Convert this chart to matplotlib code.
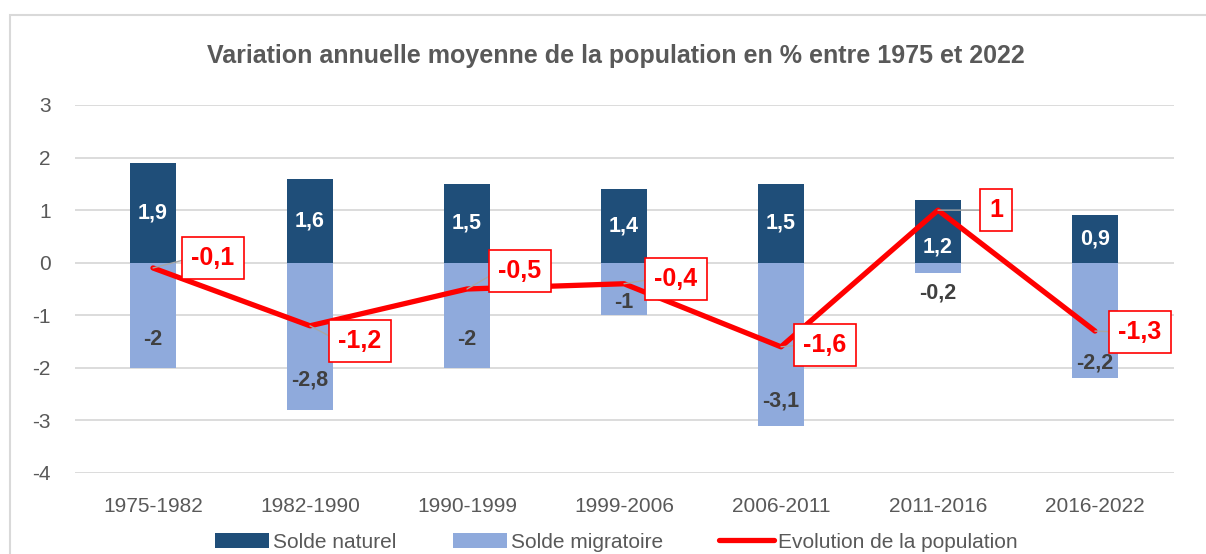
import matplotlib.pyplot as plt
from matplotlib.patches import Rectangle

plt.rcParams['font.family'] = ['Liberation Sans', 'DejaVu Sans']
plt.rcParams['axes.unicode_minus'] = False

periodes = ["1975-1982", "1982-1990", "1990-1999", "1999-2006",
            "2006-2011", "2011-2016", "2016-2022"]
solde_naturel = [1.9, 1.6, 1.5, 1.4, 1.5, 1.2, 0.9]
solde_migratoire = [-2, -2.8, -2, -1, -3.1, -0.2, -2.2]
evolution = [-0.1, -1.2, -0.5, -0.4, -1.6, 1, -1.3]

# label placement tweaks (pixels, +down) copied from the original layout
nat_dy = [0, 0, 0, 0, 0, 16, 0]
mig_dy = [-28, -30, -28, -13, -25, 20, -15]
evo_off = [(60, -10), (50, 15), (53, -18), (52, -5), (44, -2), (58, 0), (45, 1)]

dark = "#1f4e79"
light = "#8faadc"
red = "#ff0000"
grey = "#595959"


def fmt(v):
    return f"{v:g}".replace(".", ",")


fig = plt.figure(figsize=(12.06, 5.54), dpi=100)
ax = fig.add_axes([74.5 / 1206, 81 / 554, 1099 / 1206, 368 / 554])

x = list(range(len(periodes)))
w = 0.29
b1 = ax.bar(x, solde_naturel, w, color=dark, zorder=2, label="Solde naturel")
b2 = ax.bar(x, solde_migratoire, w, color=light, zorder=2, label="Solde migratoire")
l1, = ax.plot(x, evolution, color=red, lw=3.8, solid_capstyle="round", zorder=3,
              label="Evolution de la population")

for i in x:
    v = solde_naturel[i]
    ax.annotate(fmt(v), (i, v / 2), xytext=(0, -nat_dy[i] * 0.72),
                textcoords="offset points", ha="center", va="center",
                color="white", fontsize=15.5, fontweight="bold", zorder=4)
    v = solde_migratoire[i]
    ax.annotate(fmt(v), (i, v), xytext=(0, -mig_dy[i] * 0.72),
                textcoords="offset points", ha="center", va="center",
                color="#404040", fontsize=15.5, fontweight="bold", zorder=4)
    v = evolution[i]
    dx, dy = evo_off[i]
    ax.annotate(fmt(v), (i, v), xytext=(dx * 0.72, -dy * 0.72),
                textcoords="offset points", ha="center", va="center",
                color=red, fontsize=18, fontweight="bold", zorder=5,
                bbox=dict(boxstyle="square,pad=0.36", fc="white", ec=red, lw=1.2),
                arrowprops=dict(arrowstyle="-", color="#a6a6a6", lw=1,
                                relpos=(0, 0.5), shrinkA=0, shrinkB=0))

ax.set_xlim(-0.5, len(periodes) - 0.5)
ax.set_ylim(-4, 3)
ax.set_yticks(range(-4, 4))
ax.set_xticks(x)
ax.set_xticklabels(periodes)
ax.tick_params(length=0, labelsize=15, labelcolor=grey)
ax.tick_params(axis="y", pad=17)
ax.tick_params(axis="x", pad=17)
ax.grid(axis="y", color="#d9d9d9", lw=1.3, zorder=0)
for s in ax.spines.values():
    s.set_visible(False)

fig.text(616 / 1206, 1 - 56 / 554,
         "Variation annuelle moyenne de la population en % entre 1975 et 2022",
         ha="center", va="center", fontsize=18, fontweight="bold", color=grey)

fig.legend(handles=[b1, b2, l1], loc="center",
           bbox_to_anchor=(616 / 1206, 1 - 542 / 554), ncol=3,
           frameon=False, fontsize=15, labelcolor=grey, handlelength=2.6,
           handleheight=0.7, handletextpad=0.2, columnspacing=2.7)

fig.patches.append(Rectangle((10 / 1206, -0.1), 1.2, 1.1 - 15 / 554,
                             transform=fig.transFigure, fill=False,
                             ec="#d9d9d9", lw=1.5))

fig.savefig("out.png", dpi=100)
